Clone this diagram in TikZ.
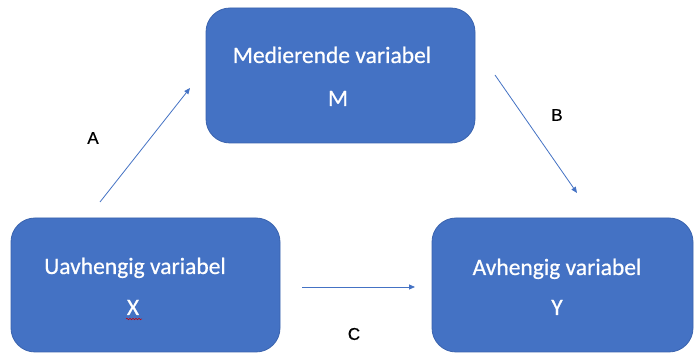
\documentclass[tikz,border=0pt]{standalone}
\usepackage{fontspec}
\setmainfont{Carlito}
\newfontfamily\boxfont[FakeBold=0.6]{Carlito}
\newfontfamily\labfont[FakeBold=0.6]{Liberation Sans}
\usetikzlibrary{arrows.meta,decorations.pathmorphing}
\definecolor{boxblue}{HTML}{4472C4}
\definecolor{boxedge}{HTML}{3A63AE}
\begin{document}
\begin{tikzpicture}[x=1pt,y=1pt,
  varbox/.style={draw=boxedge,line width=0.8pt,fill=boxblue,rounded corners=24pt,inner sep=0pt},
  boxtext/.style={text=white,font=\boxfont\fontsize{23.5}{26}\selectfont,inner sep=0pt,anchor=base},
  conn/.style={draw=boxblue,line width=0.8pt,-{Triangle[length=6pt,width=5pt]}},
  lab/.style={font=\labfont\fontsize{17}{20}\selectfont,inner sep=0pt}]
\useasboundingbox (0,0) rectangle (694,353);
\fill[white] (0,0) rectangle (694,353);
% boxes
\node[varbox,minimum width=269pt,minimum height=134pt] (bx) at (145.5,68) {};
\node[varbox,minimum width=269pt,minimum height=135pt] (bm) at (340.5,277.5) {};
\node[varbox,minimum width=261pt,minimum height=134pt] (by) at (562.5,68) {};
% texts
\node[boxtext] (tx1) at (135,79) {Uavhengig variabel};
\node[boxtext] (tx2) at (133,38) {X};
\node[boxtext] (tm1) at (332,290) {Medierende variabel};
\node[boxtext] (tm2) at (338,247) {M};
\node[boxtext] (ty1) at (557,78) {Avhengig variabel};
\node[boxtext] (ty2) at (557,38) {Y};
% spell-check squiggle
\coordinate (sq1) at (126,34);
\coordinate (sq2) at (142,34);
\draw[red!80!black,line width=0.5pt,decorate,decoration={snake,amplitude=0.8pt,segment length=3pt}] (sq1) -- (sq2);
% connectors
\coordinate (a1) at (100,151);
\coordinate (a2) at (190,265);
\coordinate (b1) at (495,278);
\coordinate (b2) at (577,160);
\coordinate (c1) at (302,66);
\coordinate (c2) at (415,66);
\draw[conn] (a1) -- (a2);
\draw[conn] (b1) -- (b2);
\draw[conn] (c1) -- (c2);
% labels
\node[lab] (la) at (93,215) {A};
\node[lab] (lb) at (557,238) {B};
\node[lab] (lc) at (354,19) {C};
\end{tikzpicture}
\end{document}
